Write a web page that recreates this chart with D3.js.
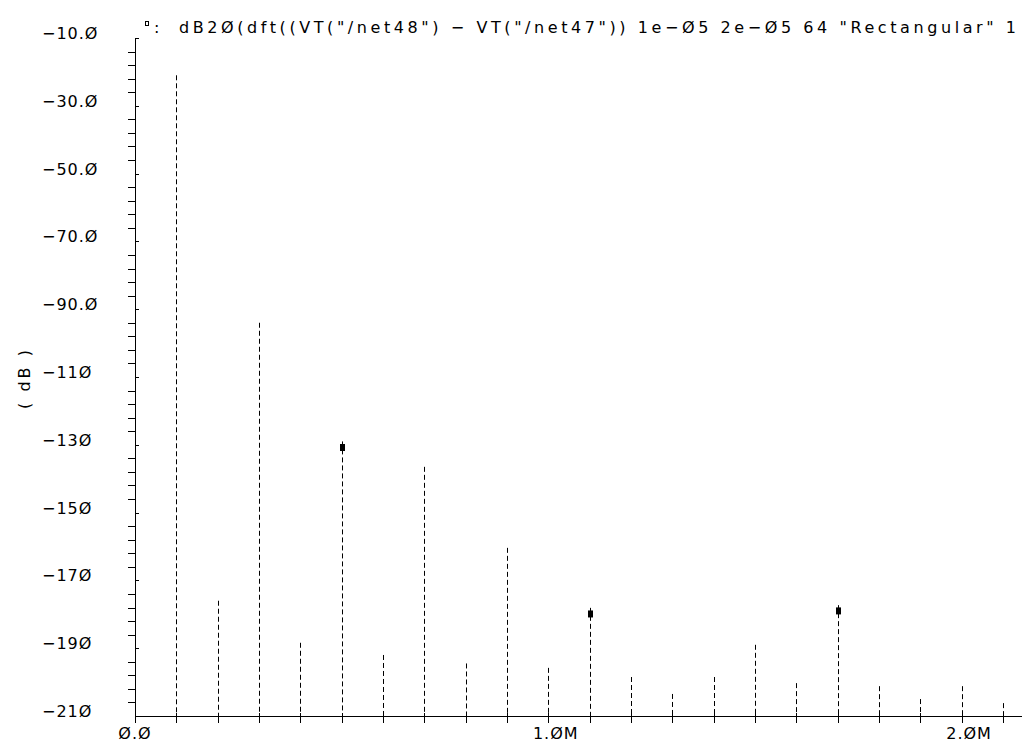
<!DOCTYPE html>
<html>
<head>
<meta charset="utf-8">
<script src="https://cdn.jsdelivr.net/npm/d3@7"></script>
<style>
  body { margin: 0; background: #fff; }
  svg { display: block; }
  text { font-family: "DejaVu Sans", sans-serif; font-size: 16px; fill: #000; letter-spacing: 1px; }
</style>
</head>
<body>
<svg id="chart" width="1022" height="744"></svg>
<script>

// spectrum lines (Hz, dB)
var freqs = [100e3, 200e3, 300e3, 400e3, 500e3, 600e3, 700e3, 800e3, 900e3, 1000e3, 1100e3,
             1200e3, 1300e3, 1400e3, 1500e3, 1600e3, 1700e3, 1800e3, 1900e3, 2000e3, 2100e3];
var mags = [-21, -176, -94, -188.4, -129, -192, -136.5, -194.5, -160.4, -195.8, -178.1,
            -198.5, -203.5, -198.5, -189, -200.3, -177.3, -201.2, -205, -201.2, -206.2];

// point markers
var markerFreqs = [500e3, 1100e3, 1700e3];
var markerMags = [-130.8, -179.9, -179.0];

// tick labels
var yTickValues = [-10, -30, -50, -70, -90, -110, -130, -150, -170, -190, -210];
var yTickLabels = ["\u221210.\u00d8", "\u221230.\u00d8", "\u221250.\u00d8", "\u221270.\u00d8", "\u221290.\u00d8",
                   "\u221211\u00d8", "\u221213\u00d8", "\u221215\u00d8", "\u221217\u00d8", "\u221219\u00d8", "\u221221\u00d8"];
var xTickValues = [0, 1e6, 2e6];
var xTickNums = ["\u00d8.\u00d8", "1.\u00d8", "2.\u00d8"];
var xTickSuffix = ["", "M", "M"];

var titleText = 'dB2\u00d8(dft((VT("/net48") \u2212 VT("/net47")) 1e\u2212\u00d85 2e\u2212\u00d85 64 "Rectangular" 1';

var svg = d3.select("#chart"),
    width = +svg.attr("width"),
    height = +svg.attr("height");

var x = d3.scaleLinear().domain([0, 2.146e6]).range([135, 1022]);
var y = d3.scaleLinear().domain([-210, -10]).range([716, 38]);

// y axis: minor every 4 dB, majors every 20
var yAxis = svg.append("g")
  .attr("transform", "translate(" + x(0) + ",0)")
  .attr("shape-rendering", "crispEdges")
  .call(d3.axisLeft(y).tickValues(d3.range(-210, -9, 4)).tickSize(7).tickSizeOuter(0).tickFormat(""));
yAxis.selectAll("path, line").attr("stroke", "#000");
yAxis.selectAll(".tick").filter(function(d) { return yTickValues.indexOf(d) >= 0; })
  .select("line").attr("x2", 4);

// x axis: tick every 100k
var xAxis = svg.append("g")
  .attr("transform", "translate(0," + y(-210) + ")")
  .attr("shape-rendering", "crispEdges")
  .call(d3.axisBottom(x).tickValues(d3.range(0, 2.15e6, 1e5)).tickSize(7).tickSizeOuter(0).tickFormat(""));
xAxis.selectAll("path, line").attr("stroke", "#000");
xAxis.selectAll(".tick line").attr("y1", -3);

// y labels
svg.append("g").selectAll("text")
  .data(yTickValues)
  .enter().append("text")
  .attr("x", 42)
  .attr("y", function(d) { return y(d) + 1; })
  .text(function(d, i) { return yTickLabels[i]; });

// x labels: number centred on the tick, unit appended
var xl = svg.append("g").selectAll("g")
  .data(xTickValues)
  .enter().append("g");
xl.append("text")
  .attr("class", "xnum")
  .attr("x", function(d) { return x(d); })
  .attr("y", 739)
  .attr("text-anchor", "middle")
  .text(function(d, i) { return xTickNums[i]; });
xl.append("text")
  .attr("x", function(d, i) {
    var w = d3.select(this.parentNode).select(".xnum").node().getComputedTextLength();
    return x(d) + w / 2;
  })
  .attr("y", 739)
  .text(function(d, i) { return xTickSuffix[i]; });

// axis name
svg.append("text")
  .attr("transform", "translate(30,378) rotate(-90)")
  .attr("text-anchor", "middle")
  .style("letter-spacing", "3px")
  .text("( dB )");

// spectrum lines
svg.append("g")
  .selectAll("line")
  .data(freqs)
  .enter().append("line")
  .attr("x1", function(d) { return Math.round(x(d)) + 0.5; })
  .attr("x2", function(d) { return Math.round(x(d)) + 0.5; })
  .attr("y1", function(d, i) { return y(mags[i]); })
  .attr("y2", y(-210))
  .attr("stroke", "#000")
  .attr("stroke-width", 1)
  .attr("stroke-dasharray", "5,3");

// markers
svg.append("g")
  .selectAll("rect")
  .data(markerFreqs)
  .enter().append("rect")
  .attr("x", function(d) { return Math.round(x(d)) - 2; })
  .attr("y", function(d, i) { return y(markerMags[i]) - 3.5; })
  .attr("width", 5)
  .attr("height", 7)
  .attr("fill", "#000");

// title with its little legend glyph
svg.append("rect")
  .attr("x", 145.5).attr("y", 21.5)
  .attr("width", 3).attr("height", 4)
  .attr("fill", "none").attr("stroke", "#000").attr("stroke-width", 1);
svg.append("text")
  .attr("x", 154)
  .attr("y", 33)
  .text(":");
svg.append("text")
  .attr("x", 179)
  .attr("y", 33)
  .attr("textLength", 838)
  .attr("lengthAdjust", "spacing")
  .text(titleText);

</script>
</body>
</html>
